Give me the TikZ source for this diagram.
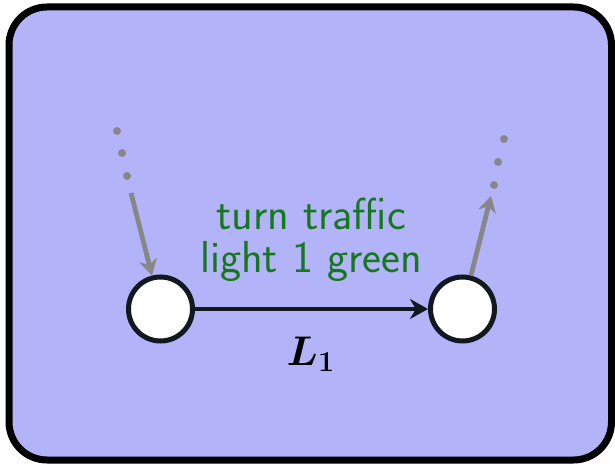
\documentclass[tikz,border=0pt]{standalone}
\usepackage{amsmath,amssymb,bm}
\usepackage{tikz}
\usetikzlibrary{positioning,arrows.meta}
\usepackage{xcolor}
\definecolor{lightgreen}{RGB}{22,120,28}
\definecolor{darkline}{RGB}{17,24,31}
\definecolor{panelblue}{RGB}{179,179,250}

\begin{document}
\begin{tikzpicture}[x=0.5pt,y=-0.5pt,>={Stealth[length=9pt,width=10pt]},
  state/.style={circle,draw=darkline,line width=2.5pt,fill=white,minimum size=32pt,inner sep=0pt},
  ghost/.style={->,>={Stealth[length=8pt,width=9pt]},line width=2.4pt,draw=black!47}]
\useasboundingbox (0,0) rectangle (615,464);
\draw[line width=3.5pt,rounded corners=19pt,fill=panelblue] (9,7) rectangle (611.5,460);
\node[state] (v1) at (160.5,309) {};
\node[state] (v2) at (462.5,309) {};
\draw[->,line width=2.2pt,draw=darkline] (v1) -- (v2);
\node[anchor=south,inner sep=0pt,align=center,text=lightgreen,
  font=\sffamily\fontsize{22.4}{21.5}\selectfont] (act) at (311,282) {turn traffic\\light 1 green};
\node[anchor=base,inner sep=0pt,font=\fontsize{22}{24}\selectfont] (lab) at (311,365) {$\bm{L_1}$};
% incoming and outgoing edges
\coordinate (in1) at (131,193);
\coordinate (out1) at (491,196);
\draw[ghost] (in1) -- (v1);
\draw[ghost] (v2) -- (out1);
\foreach \x/\y in {117/131,122/153,127/176,494/185,498/162,504/139}
  \fill[black!47] (\x,\y) circle (2pt);
\end{tikzpicture}
\end{document}
